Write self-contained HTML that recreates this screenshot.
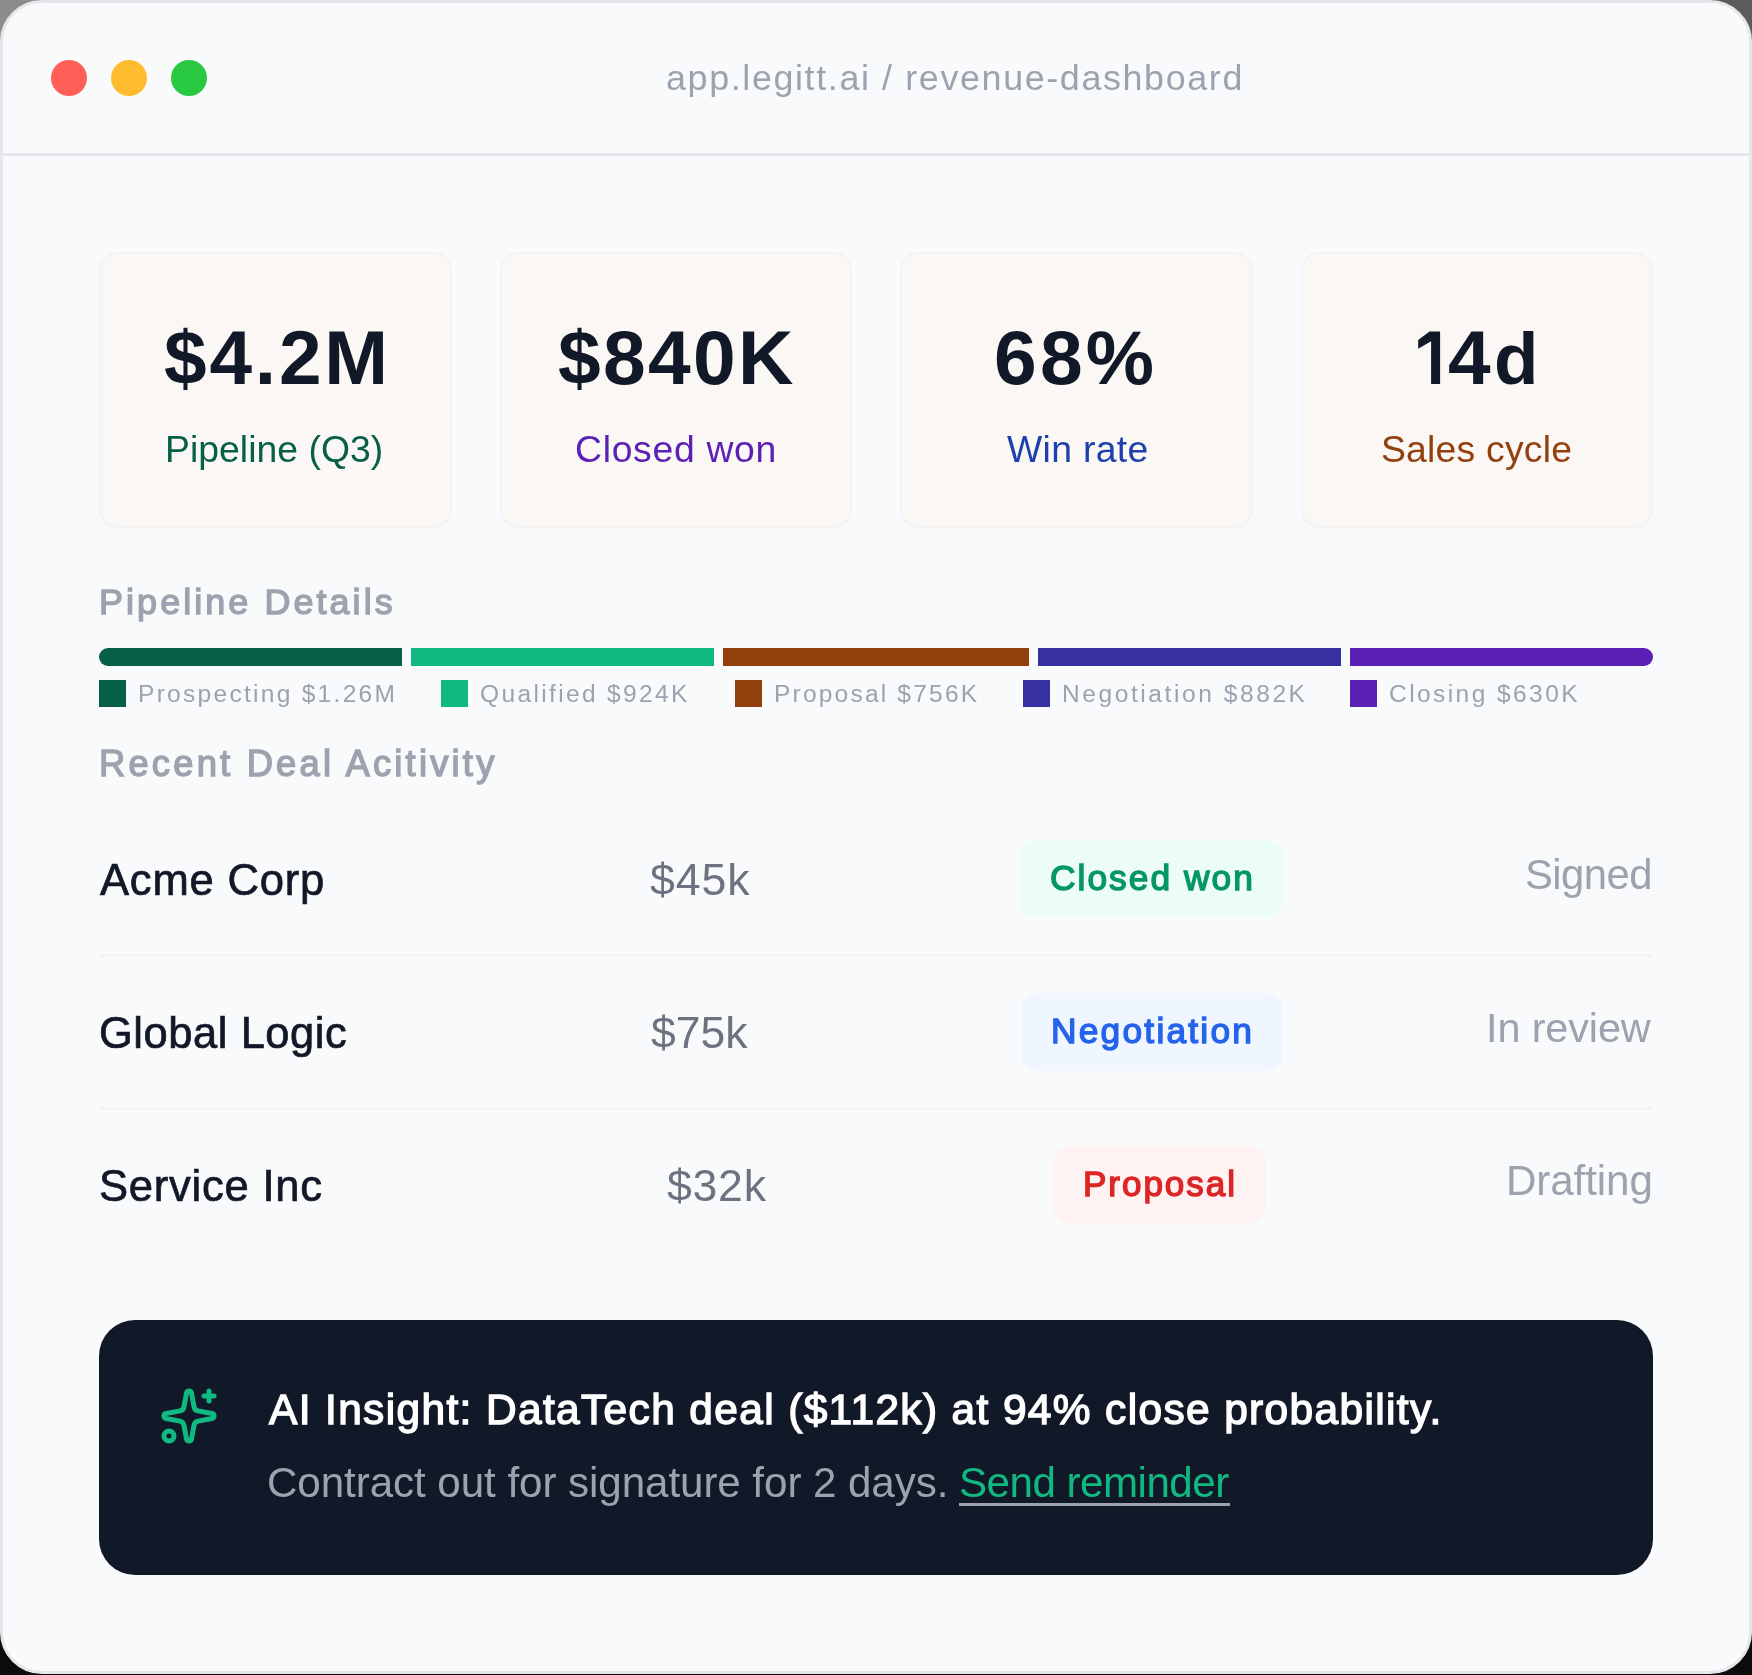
<!DOCTYPE html>
<html><head><meta charset="utf-8">
<style>
html,body{margin:0;padding:0;}
body{width:1752px;height:1675px;position:relative;overflow:hidden;background:linear-gradient(90deg,#8c8c8c 0,#8c8c8c 50%,#5c5c5c 50%,#5c5c5c 100%) top/100% 50% no-repeat,#0b0b0b;font-family:"Liberation Sans",sans-serif;}
.win{position:absolute;left:0;top:0;width:1752px;height:1674px;box-sizing:border-box;border:3px solid #e5e7eb;border-radius:42px;background:#f9fafb;overflow:hidden;}
.a{position:absolute;}
.t{position:absolute;white-space:nowrap;font-family:"Liberation Sans",sans-serif;will-change:transform;}
.dot{position:absolute;width:36px;height:36px;border-radius:50%;top:60px;}
.card{position:absolute;top:252px;width:352.5px;height:276px;box-sizing:border-box;border-radius:18px;background:#faf7f4;border:2px solid #f2f3f5;}
.seg{position:absolute;top:648px;height:18px;width:303.6px;}
.sq{position:absolute;top:680px;width:27px;height:27px;}
.sep{position:absolute;left:99px;width:1554px;height:3px;background:#f3f4f6;}
.badge{position:absolute;border-radius:18px;}
</style></head><body>
<div class="win"></div>

<div class="a" style="left:3px;top:153px;width:1746px;height:3px;background:#e5e7eb"></div>
<div class="dot" style="left:51px;background:#ff5f57"></div>
<div class="dot" style="left:111px;background:#febc2e"></div>
<div class="dot" style="left:171px;background:#28c840"></div>
<div class="card" style="left:99px"></div>
<div class="card" style="left:499.5px"></div>
<div class="card" style="left:900px"></div>
<div class="card" style="left:1300.5px"></div>
<div class="seg" style="left:99px;width:302.9px;background:#065f46;border-radius:9px 0 0 9px;"></div>
<div class="seg" style="left:411px;width:302.8px;background:#10b981;"></div>
<div class="seg" style="left:723.1px;width:305.7px;background:#92400e;"></div>
<div class="seg" style="left:1038.1px;width:302.8px;background:#3730a3;"></div>
<div class="seg" style="left:1350.1px;width:302.9px;background:#5b21b6;border-radius:0 9px 9px 0;"></div>
<div class="sq" style="left:99px;background:#065f46"></div>
<div class="sq" style="left:441.1px;background:#10b981"></div>
<div class="sq" style="left:735px;background:#92400e"></div>
<div class="sq" style="left:1023.1px;background:#3730a3"></div>
<div class="sq" style="left:1350.1px;background:#5b21b6"></div>
<div class="sep" style="top:954px"></div>
<div class="sep" style="top:1107px"></div>
<div class="badge" style="left:1018.5px;top:840.3px;width:265px;height:77px;background:#ecfdf5"></div>
<div class="badge" style="left:1020.5px;top:992.8px;width:262px;height:78px;background:#eff6ff"></div>
<div class="badge" style="left:1053px;top:1145.6px;width:213px;height:78.6px;background:#fef2f2"></div>
<div class="a" style="left:99px;top:1320px;width:1554px;height:255px;border-radius:36px;background:#111827"></div>
<svg class="a" style="left:159px;top:1386px" width="60" height="60" viewBox="0 0 24 24" fill="none" stroke="#10b981" stroke-width="2" stroke-linecap="round" stroke-linejoin="round"><path d="M11.017 2.814a1 1 0 0 1 1.966 0l1.051 5.558a2 2 0 0 0 1.594 1.594l5.558 1.051a1 1 0 0 1 0 1.966l-5.558 1.051a2 2 0 0 0-1.594 1.594l-1.051 5.558a1 1 0 0 1-1.966 0l-1.051-5.558a2 2 0 0 0-1.594-1.594l-5.558-1.051a1 1 0 0 1 0-1.966l5.558-1.051a2 2 0 0 0 1.594-1.594z"/><path d="M20 2v4"/><path d="M22 4h-4"/><circle cx="4" cy="20" r="2"/></svg>
<svg class="a" style="left:0;top:0" width="1752" height="1675"><polygon fill="#111827" points="1429.5,331.6 1440.1,331.6 1440.1,384 1431.1,384 1431.1,341.2 1418.2,348.8 1418.2,340 "/></svg>
<div class="a" style="left:959px;top:1503.4px;width:271px;height:3px;background:#9ca3af"></div>
<div class="t" style="left:665.5px;top:60.7px;font-size:35.88px;line-height:35.88px;font-weight:400;letter-spacing:1.619px;color:#9ca3af;">app.legitt.ai / revenue-dashboard</div>
<div class="t" style="left:164.0px;top:320.1px;font-size:76.6px;line-height:76.6px;font-weight:700;letter-spacing:2.825px;color:#111827;">$4.2M</div>
<div class="t" style="left:558.4px;top:320.1px;font-size:76.74px;line-height:76.74px;font-weight:700;letter-spacing:2.35px;color:#111827;">$840K</div>
<div class="t" style="left:994.4px;top:320.1px;font-size:76.74px;line-height:76.74px;font-weight:700;letter-spacing:3.25px;color:#111827;">68%</div>
<div class="t" style="left:1448.3px;top:320.1px;font-size:76.6px;line-height:76.6px;font-weight:700;letter-spacing:0px;color:#111827;">4</div>
<div class="t" style="left:1493.8px;top:323.1px;font-size:72.73px;line-height:72.73px;font-weight:700;letter-spacing:0px;color:#111827;">d</div>
<div class="t" style="left:164.6px;top:430.7px;font-size:37.35px;line-height:37.35px;font-weight:400;letter-spacing:0.033px;color:#065f46;">Pipeline (Q3)</div>
<div class="t" style="left:574.8px;top:430.7px;font-size:37.35px;line-height:37.35px;font-weight:400;letter-spacing:0.689px;color:#5b21b6;">Closed won</div>
<div class="t" style="left:1006.5px;top:430.7px;font-size:37.35px;line-height:37.35px;font-weight:400;letter-spacing:0.329px;color:#1e40af;">Win rate</div>
<div class="t" style="left:1381.2px;top:430.7px;font-size:37.35px;line-height:37.35px;font-weight:400;letter-spacing:0.22px;color:#92400e;">Sales cycle</div>
<div class="t" style="left:99.0px;top:585.1px;font-size:35.9px;line-height:35.9px;font-weight:400;letter-spacing:3.087px;color:#9ca3af;-webkit-text-stroke:1.4px #9ca3af;">Pipeline Details</div>
<div class="t" style="left:137.9px;top:681.6px;font-size:24.56px;line-height:24.56px;font-weight:400;letter-spacing:2.271px;color:#9ca3af;">Prospecting $1.26M</div>
<div class="t" style="left:480.2px;top:681.6px;font-size:24.56px;line-height:24.56px;font-weight:400;letter-spacing:2.336px;color:#9ca3af;">Qualified $924K</div>
<div class="t" style="left:773.6px;top:681.6px;font-size:24.56px;line-height:24.56px;font-weight:400;letter-spacing:2.185px;color:#9ca3af;">Proposal $756K</div>
<div class="t" style="left:1061.8px;top:681.6px;font-size:24.56px;line-height:24.56px;font-weight:400;letter-spacing:2.562px;color:#9ca3af;">Negotiation $882K</div>
<div class="t" style="left:1389.4px;top:681.6px;font-size:24.56px;line-height:24.56px;font-weight:400;letter-spacing:2.408px;color:#9ca3af;">Closing $630K</div>
<div class="t" style="left:98.8px;top:746.3px;font-size:36.34px;line-height:36.34px;font-weight:400;letter-spacing:3.21px;color:#9ca3af;-webkit-text-stroke:1.4px #9ca3af;">Recent Deal Acitivity</div>
<div class="t" style="left:100.0px;top:859.35px;font-size:43.6px;line-height:43.6px;font-weight:400;letter-spacing:0.788px;color:#111827;-webkit-text-stroke:0.7px #111827;">Acme Corp</div>
<div class="t" style="left:98.8px;top:1012.15px;font-size:43.46px;line-height:43.46px;font-weight:400;letter-spacing:0.564px;color:#111827;-webkit-text-stroke:0.7px #111827;">Global Logic</div>
<div class="t" style="left:99.0px;top:1164.95px;font-size:43.6px;line-height:43.6px;font-weight:400;letter-spacing:0.74px;color:#111827;-webkit-text-stroke:0.7px #111827;">Service Inc</div>
<div class="t" style="left:650.2px;top:858.3px;font-size:44.62px;line-height:44.62px;font-weight:400;letter-spacing:0.933px;color:#6b7280;">$45k</div>
<div class="t" style="left:650.9px;top:1011.4px;font-size:44.48px;line-height:44.48px;font-weight:400;letter-spacing:0.0px;color:#6b7280;">$75k</div>
<div class="t" style="left:667.3px;top:1164.4px;font-size:44.62px;line-height:44.62px;font-weight:400;letter-spacing:0.733px;color:#6b7280;">$32k</div>
<div class="t" style="left:1049.5px;top:860.1px;font-size:35.32px;line-height:35.32px;font-weight:400;letter-spacing:2.044px;color:#059669;-webkit-text-stroke:1.4px #059669;">Closed won</div>
<div class="t" style="left:1051.0px;top:1013.0px;font-size:35.32px;line-height:35.32px;font-weight:400;letter-spacing:2.23px;color:#2563eb;-webkit-text-stroke:1.4px #2563eb;">Negotiation</div>
<div class="t" style="left:1083.2px;top:1166.1px;font-size:35.03px;line-height:35.03px;font-weight:400;letter-spacing:1.971px;color:#dc2626;-webkit-text-stroke:1.4px #dc2626;">Proposal</div>
<div class="t" style="left:1524.9px;top:853.8px;font-size:41.86px;line-height:41.86px;font-weight:400;letter-spacing:-0.58px;color:#9ca3af;">Signed</div>
<div class="t" style="left:1486.3px;top:1007.9px;font-size:41.42px;line-height:41.42px;font-weight:400;letter-spacing:-0.125px;color:#9ca3af;">In review</div>
<div class="t" style="left:1506.0px;top:1160.0px;font-size:42.15px;line-height:42.15px;font-weight:400;letter-spacing:-0.1px;color:#9ca3af;">Drafting</div>
<div class="t" style="left:269.2px;top:1389.2px;font-size:42.44px;line-height:42.44px;font-weight:400;letter-spacing:1.367px;color:#ffffff;-webkit-text-stroke:1.4px #ffffff;">AI Insight: DataTech deal ($112k) at 94% close probability.</div>
<div class="t" style="left:267.2px;top:1461.9px;font-size:42.15px;line-height:42.15px;font-weight:400;letter-spacing:-0.068px;color:#9ca3af;">Contract out for signature for 2 days.</div>
<div class="t" style="left:958.7px;top:1461.9px;font-size:42.15px;line-height:42.15px;font-weight:400;letter-spacing:-0.517px;color:#10b981;">Send reminder</div>
</body></html>
